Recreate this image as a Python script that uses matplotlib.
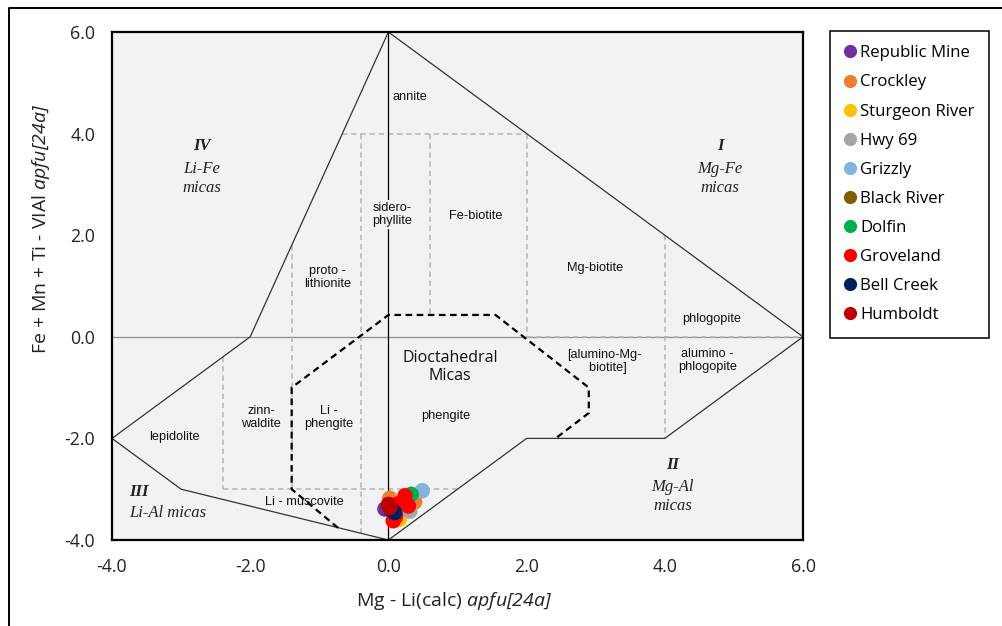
import matplotlib
matplotlib.use("Agg")
import matplotlib.pyplot as plt
from matplotlib.lines import Line2D

plt.rcParams["font.family"] = ["Open Sans", "DejaVu Sans"]
plt.rcParams["mathtext.fontset"] = "custom"
plt.rcParams["mathtext.rm"] = "Open Sans:italic"
plt.rcParams["mathtext.it"] = "Open Sans:italic"

# ---- sample data: (Mg - Li, Fe + Mn + Ti - VIAl) in apfu ----
series_names = ["Republic Mine", "Crockley", "Sturgeon River", "Hwy 69", "Grizzly",
                "Black River", "Dolfin", "Groveland", "Bell Creek", "Humboldt"]
series_colors = ["#7030A0", "#ED7D31", "#FFC000", "#A5A5A5", "#85B3E0",
                 "#7F6000", "#00B050", "#FF0000", "#002060", "#C00000"]
republic_x, republic_y = [-0.05], [-3.39]
crockley_x, crockley_y = [0.02, 0.38], [-3.18, -3.25]
sturgeon_x, sturgeon_y = [0.16], [-3.59]
hwy69_x, hwy69_y = [0.31, 0.25], [-3.43, -3.40]
grizzly_x, grizzly_y = [0.49], [-3.03]
blackriver_x, blackriver_y = [0.10], [-3.50]
dolfin_x, dolfin_y = [0.33], [-3.10]
groveland_x = [0.24, 0.21, 0.29, 0.14, 0.07, 0.10]
groveland_y = [-3.13, -3.26, -3.33, -3.29, -3.62, -3.55]
bellcreek_x, bellcreek_y = [0.09, 0.04], [-3.46, -3.40]
humboldt_x, humboldt_y = [0.02, 0.00], [-3.36, -3.30]

series_x = [republic_x, crockley_x, sturgeon_x, hwy69_x, grizzly_x,
            blackriver_x, dolfin_x, groveland_x, bellcreek_x, humboldt_x]
series_y = [republic_y, crockley_y, sturgeon_y, hwy69_y, grizzly_y,
            blackriver_y, dolfin_y, groveland_y, bellcreek_y, humboldt_y]

ticks = [-4, -2, 0, 2, 4, 6]
tick_labels = ["-4.0", "-2.0", "0.0", "2.0", "4.0", "6.0"]

# ---- classification diagram geometry (Tischendorf-type mica diagram) ----
outline_left_x = [0, -2, -4, -3, 0]
outline_left_y = [6, 0, -2, -3, -4]
outline_right_x = [0, 6, 4, 2, 0]
outline_right_y = [6, 0, -2, -2, -4]

# gray dashed sub-field boundaries (x list, y list)
subfields = [
    ([-2 / 3, 2], [4, 4]),
    ([-0.4, -0.4], [4, -4 + 0.4 / 3]),
    ([0.6, 0.6], [4, 0.43]),
    ([2, 2], [4, 0]),
    ([-1.4, -1.4], [6 - 3 * 1.4, -3]),
    ([-2.4, -2.4], [-0.4, -3]),
    ([-2.4, 1.0], [-3, -3]),
    ([4, 4], [2, -2]),
    ([2, 6], [0, 0]),
]

# dioctahedral mica field (black dashed)
dioct_x = [-0.73, -1.4, -1.4, 0.0, 1.55, 2.9, 2.9, 2.42]
dioct_y = [-3.76, -3.0, -1.0, 0.43, 0.43, -1.0, -1.5, -2.0]

fig = plt.figure(figsize=(10.03, 6.26), dpi=100)
ax = fig.add_axes([112 / 1003, 86 / 626, 691 / 1003, 508 / 626])
ax.set_facecolor("#f2f2f2")
ax.set_xlim(-4, 6)
ax.set_ylim(-4, 6)

for s in ax.spines.values():
    s.set_linewidth(1.6)
    s.set_color("black")

ax.set_xticks(ticks)
ax.set_xticklabels(tick_labels)
ax.set_yticks(ticks)
ax.set_yticklabels(tick_labels)
ax.tick_params(length=0, labelsize=12.8, colors="#222222")
ax.tick_params(axis="x", pad=13)
ax.tick_params(axis="y", pad=12)

# axes cross lines
ax.axhline(0, color="#8c8c8c", lw=0.9, zorder=1)
ax.plot([0, 0], [-4, 6], color="black", lw=0.9, zorder=1.5)

for xs, ys in subfields:
    ax.plot(xs, ys, color="#b4b4b4", lw=1.1, ls=(0, (3.5, 2.5)), zorder=1.2)

ax.plot(outline_left_x, outline_left_y, color="#333333", lw=0.9, zorder=1.6)
ax.plot(outline_right_x, outline_right_y, color="#333333", lw=0.9, zorder=1.6)
ax.plot(dioct_x, dioct_y, color="black", lw=1.6, ls=(0, (3, 2)), zorder=1.7)

# field names
field_font = dict(family=["Liberation Sans", "DejaVu Sans"], fontsize=9.2,
                  ha="center", va="center", color="#111111", linespacing=1.1, zorder=3)
ax.text(0.31, 4.72, "annite", **field_font)
ax.text(0.05, 2.40, "sidero-\nphyllite",
        bbox=dict(facecolor="#f2f2f2", edgecolor="none", pad=1.5), **field_font)
ax.text(1.26, 2.38, "Fe-biotite", **field_font)
ax.text(2.99, 1.36, "Mg-biotite", **field_font)
ax.text(-0.88, 1.16, "proto -\nlithionite", **field_font)
ax.text(4.68, 0.35, "phlogopite", **field_font)
ax.text(4.62, -0.47, "alumino -\nphlogopite", **field_font)
ax.text(3.13, -0.49, "[alumino-Mg-\n  biotite]", **field_font)
ax.text(0.83, -1.56, "phengite", **field_font)
ax.text(-3.09, -1.97, "lepidolite", **field_font)
ax.text(-1.84, -1.59, "zinn-\nwaldite", **field_font)
ax.text(-0.86, -1.59, "Li -\nphengite", **field_font)
ax.text(-1.21, -3.26, "Li - muscovite", **field_font)
ax.text(0.89, -0.60, "Dioctahedral\nMicas", fontsize=11.5, ha="center", va="center",
        color="#111111", linespacing=1.2, zorder=3)

# mica group labels
serif = ["Liberation Serif", "DejaVu Serif"]
group_font = dict(family=serif, fontsize=12, color="#222222", zorder=3)


def group_label(x, y, numeral, lines, ha="center"):
    ax.text(x, y + 0.45, numeral, ha=ha, va="center", fontweight="bold",
            style="italic", **group_font)
    ax.text(x, y - 0.18, lines, ha=ha, va="center", style="italic",
            linespacing=1.25, **group_font)


group_label(-2.70, 3.30, "IV", "Li-Fe\nmicas")
group_label(4.80, 3.30, "I", "Mg-Fe\nmicas")
group_label(4.11, -2.97, "II", "Mg-Al\nmicas")
ax.text(-3.75, -3.06, "III", ha="left", va="center", fontweight="bold",
        style="italic", **group_font)
ax.text(-3.75, -3.46, "Li-Al micas", ha="left", va="center", style="italic",
        **group_font)

# data points
handles = []
for name, col, xs, ys in zip(series_names, series_colors, series_x, series_y):
    ax.scatter(xs, ys, s=125, color=col, edgecolors="none", zorder=5, label=name)
    handles.append(Line2D([], [], ls="none", marker="o", ms=9.5,
                          markerfacecolor=col, markeredgecolor="none"))

fig.legend(handles, series_names, loc="upper left",
           bbox_to_anchor=(830 / 1003, 1 - 31 / 626), fontsize=12.1,
           frameon=True, fancybox=False, edgecolor="black", framealpha=1,
           handlelength=0.65, handletextpad=0.3, labelspacing=0.78,
           borderpad=0.85, borderaxespad=0)
fig.legends[0].get_frame().set_linewidth(1.1)

# axis titles
fig.text(454 / 1003, 1 - 601 / 626, r"Mg - Li(calc) $apfu[24a]$",
         ha="center", va="center", fontsize=14, color="#222222")
fig.text(41 / 1003, 1 - 229 / 626, r"Fe + Mn + Ti - VIAl $apfu[24a]$",
         ha="center", va="center", rotation=90, fontsize=14, color="#222222")

# figure border (left and top edges of the surrounding frame)
fig.add_artist(Line2D([9 / 1003, 9 / 1003, 1.05], [-0.05, 1 - 8 / 626, 1 - 8 / 626],
                      transform=fig.transFigure, color="black", lw=1.4))

fig.savefig("out.png", dpi=100)
